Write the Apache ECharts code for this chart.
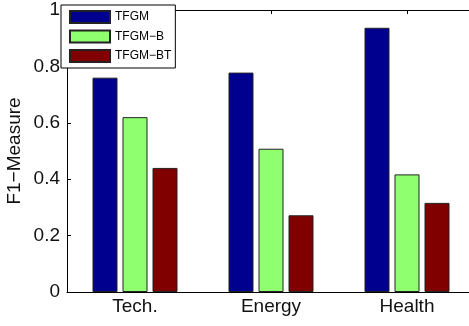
<!DOCTYPE html>
<html>
<head>
<meta charset="utf-8">
<script src="https://cdn.jsdelivr.net/npm/echarts@6/dist/echarts.min.js"></script>
<style>html,body{margin:0;padding:0;background:#fff}#c{width:469px;height:326px}</style>
</head>
<body>
<div id="c"></div>
<script>
var categories = ['Tech.', 'Energy', 'Health'];
var seriesNames = ['TFGM', 'TFGM\u2212B', 'TFGM\u2212BT'];
var tfgm = [0.76, 0.778, 0.937];
var tfgmB = [0.62, 0.508, 0.417];
var tfgmBT = [0.44, 0.272, 0.316];
var colors = ['#00008F', '#8FFF6F', '#800000'];
var yTicks = [0, 0.2, 0.4, 0.6, 0.8, 1];

var font = 'Liberation Sans, Helvetica, Arial, sans-serif';
var chart = echarts.init(document.getElementById('c'), null, {renderer: 'canvas'});
function mk(name, data, color) {
  return {
    name: name, type: 'bar', data: data, barWidth: 25, barGap: '20%',
    xAxisIndex: 0, yAxisIndex: 0,
    itemStyle: {color: color, borderColor: '#222', borderWidth: 1},
    emphasis: {disabled: true}, z: 2
  };
}
chart.setOption({
  animation: false,
  backgroundColor: '#fff',
  grid: {left: 67, top: 10, width: 408, bottom: 34, containLabel: false, outerBoundsMode: 'none'},
  legend: {
    orient: 'vertical', left: 61, top: 5,
    padding: [5, 4, 5, 8],
    backgroundColor: '#fff', borderColor: '#000', borderWidth: 1, borderRadius: 0,
    itemWidth: 40, itemHeight: 12, itemGap: 5.5,
    icon: 'rect',
    textStyle: {fontFamily: font, fontSize: 12, color: '#000'},
    data: seriesNames, z: 10
  },
  xAxis: [{
    type: 'category', data: categories, position: 'bottom',
    axisLine: {show: true, lineStyle: {color: '#000', width: 1}},
    axisTick: {show: false},
    axisLabel: {fontFamily: font, fontSize: 19, color: '#111', margin: 5},
    splitLine: {show: false}
  }, {
    type: 'category', data: categories, position: 'top',
    axisLine: {show: true, lineStyle: {color: '#000', width: 1}},
    axisTick: {show: true, inside: true, alignWithLabel: true, length: 4, lineStyle: {color: '#000'}},
    axisLabel: {show: false},
    splitLine: {show: false}
  }],
  yAxis: {
    type: 'value', min: yTicks[0], max: yTicks[yTicks.length - 1], interval: 0.2,
    name: 'F1\u2212Measure', nameLocation: 'middle', nameGap: 43, nameMoveOverlap: false,
    nameTextStyle: {fontFamily: font, fontSize: 19, color: '#111'},
    axisLine: {show: true, lineStyle: {color: '#000', width: 1}},
    axisTick: {show: true, inside: true, length: 4, lineStyle: {color: '#000'}},
    axisLabel: {fontFamily: font, fontSize: 19, color: '#111', margin: 7},
    splitLine: {show: false}
  },
  series: [mk(seriesNames[0], tfgm, colors[0]), mk(seriesNames[1], tfgmB, colors[1]), mk(seriesNames[2], tfgmBT, colors[2])]
});
</script>
</body>
</html>
